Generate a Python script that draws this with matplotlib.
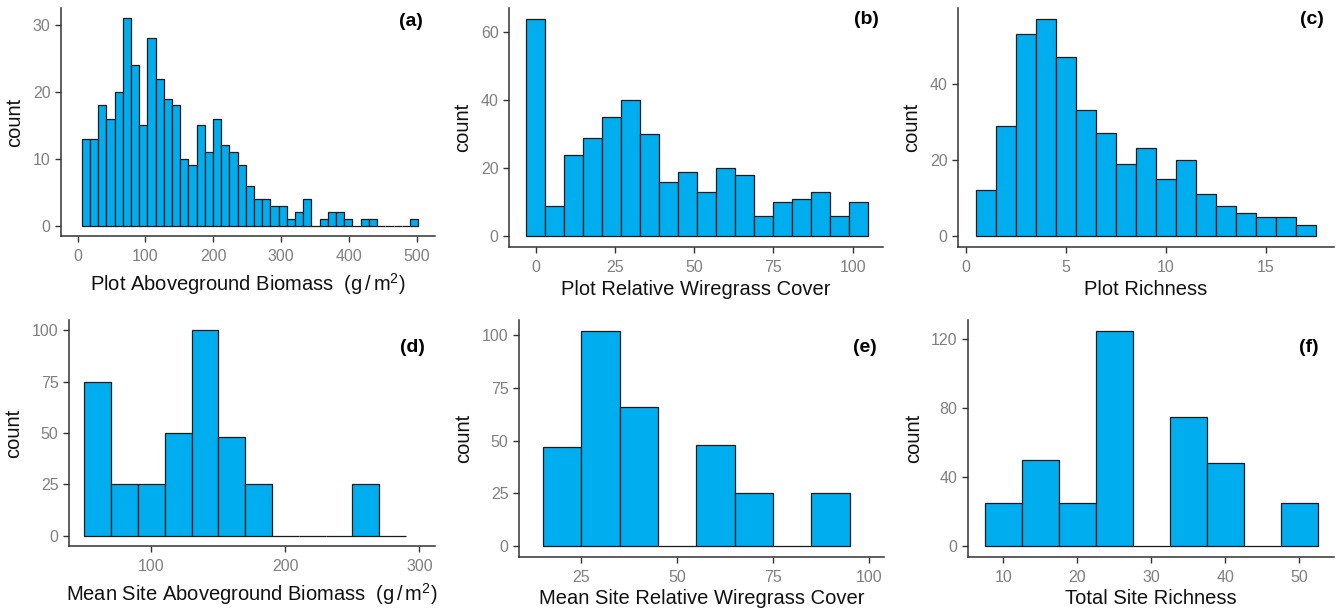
import numpy as np
import matplotlib
matplotlib.use("Agg")
import matplotlib.pyplot as plt

plt.rcParams['font.family'] = ['Liberation Sans', 'DejaVu Sans']
plt.rcParams['mathtext.fontset'] = 'custom'
plt.rcParams['mathtext.rm'] = 'Liberation Sans'
plt.rcParams['mathtext.it'] = 'Liberation Sans:italic'

W, H = 1341, 610

# Histogram data: first bin edge, bin width, counts per bin
a_start, a_width = 6.0, 12.1
a_counts = [13, 13, 18, 16, 20, 31, 24, 15, 28, 22, 19, 18, 10, 9, 15, 11, 16, 12,
            11, 9, 6, 4, 4, 3, 3, 1, 2, 4, 0, 1, 2, 2, 1, 0, 1, 1, 0, 0, 0, 0, 1]

b_start, b_width = -3.0, 6.0
b_counts = [64, 9, 24, 29, 35, 40, 30, 16, 19, 13, 20, 18, 6, 10, 11, 13, 6, 10]

c_start, c_width = 0.5, 1.0
c_counts = [12, 29, 53, 57, 47, 33, 27, 19, 23, 15, 20, 11, 8, 6, 5, 5, 3]

d_start, d_width = 50.0, 20.0
d_counts = [75, 25, 25, 50, 100, 48, 25, 0, 0, 0, 25, 0]

e_start, e_width = 15.0, 10.0
e_counts = [47, 102, 66, 0, 48, 25, 0, 25]

f_start, f_width = 7.5, 5.0
f_counts = [25, 50, 25, 125, 0, 75, 48, 0, 25]

panels = [
    dict(start=a_start, width=a_width, counts=a_counts,
         xlabel=r'Plot Aboveground Biomass  (g$\,$/$\,$m$^2$)',
         xticks=[0, 100, 200, 300, 400, 500], yticks=[0, 10, 20, 30],
         xlim=(-24.6, 527), ylim=(-1.55, 32.55), tag='(a)',
         box=(61, 8, 435, 236), tagpos=(423, 22), labelpad=5),
    dict(start=b_start, width=b_width, counts=b_counts,
         xlabel='Plot Relative Wiregrass Cover',
         xticks=[0, 25, 50, 75, 100], yticks=[0, 20, 40, 60],
         xlim=(-8.4, 109.6), ylim=(-3.2, 67.2), tag='(b)',
         box=(509, 8, 883, 247), tagpos=(879, 20), labelpad=3.5),
    dict(start=c_start, width=c_width, counts=c_counts,
         xlabel='Plot Richness',
         xticks=[0, 5, 10, 15], yticks=[0, 20, 40],
         xlim=(-0.38, 18.4), ylim=(-2.85, 59.85), tag='(c)',
         box=(958, 8, 1334, 247), tagpos=(1324, 20), labelpad=3.5),
    dict(start=d_start, width=d_width, counts=d_counts,
         xlabel=r'Mean Site Aboveground Biomass  (g$\,$/$\,$m$^2$)',
         xticks=[100, 200, 300], yticks=[0, 25, 50, 75, 100],
         xlim=(38.5, 311.7), ylim=(-5, 105), tag='(d)',
         box=(69, 320, 435, 546), tagpos=(425, 347), labelpad=5),
    dict(start=e_start, width=e_width, counts=e_counts,
         xlabel='Mean Site Relative Wiregrass Cover',
         xticks=[25, 50, 75, 100], yticks=[0, 25, 50, 75, 100],
         xlim=(8.8, 103.9), ylim=(-5.1, 107.1), tag='(e)',
         box=(519, 320, 884, 557), tagpos=(877, 347), labelpad=3),
    dict(start=f_start, width=f_width, counts=f_counts,
         xlabel='Total Site Richness',
         xticks=[10, 20, 30, 40, 50], yticks=[0, 40, 80, 120],
         xlim=(5.2, 54.7), ylim=(-6.25, 131.25), tag='(f)',
         box=(968, 320, 1334, 557), tagpos=(1319, 348), labelpad=3),
]

fig = plt.figure(figsize=(W / 100, H / 100), dpi=100)

for p in panels:
    x0, y0, x1, y1 = p['box']
    ax = fig.add_axes([x0 / W, 1 - y1 / H, (x1 - x0) / W, (y1 - y0) / H])
    counts = np.array(p['counts'])
    lefts = p['start'] + p['width'] * np.arange(len(counts))
    ax.bar(lefts, counts, width=p['width'], align='edge',
           color='#00AEEF', edgecolor='#1a1a1a', linewidth=0.9)
    ax.set_xlim(*p['xlim'])
    ax.set_ylim(*p['ylim'])
    ax.set_xticks(p['xticks'])
    ax.set_yticks(p['yticks'])
    for s in ['top', 'right']:
        ax.spines[s].set_visible(False)
    for s in ['left', 'bottom']:
        ax.spines[s].set_color('#333333')
        ax.spines[s].set_linewidth(1.1)
    ax.tick_params(axis='both', direction='out', length=4, width=1,
                   color='#333333', labelcolor='#808080', labelsize=11.5)
    ax.tick_params(axis='x', pad=5.5)
    ax.tick_params(axis='y', pad=3.5)
    ax.set_xlabel(p['xlabel'], fontsize=14.5, color='#111111', labelpad=p['labelpad'])
    ax.set_ylabel('count', fontsize=14.5, color='#111111', labelpad=6)
    fig.text(p['tagpos'][0] / W, 1 - p['tagpos'][1] / H, p['tag'],
             ha='right', va='center', fontsize=14, fontweight='bold')

fig.savefig('out.png', dpi=100)
plt.close(fig)
